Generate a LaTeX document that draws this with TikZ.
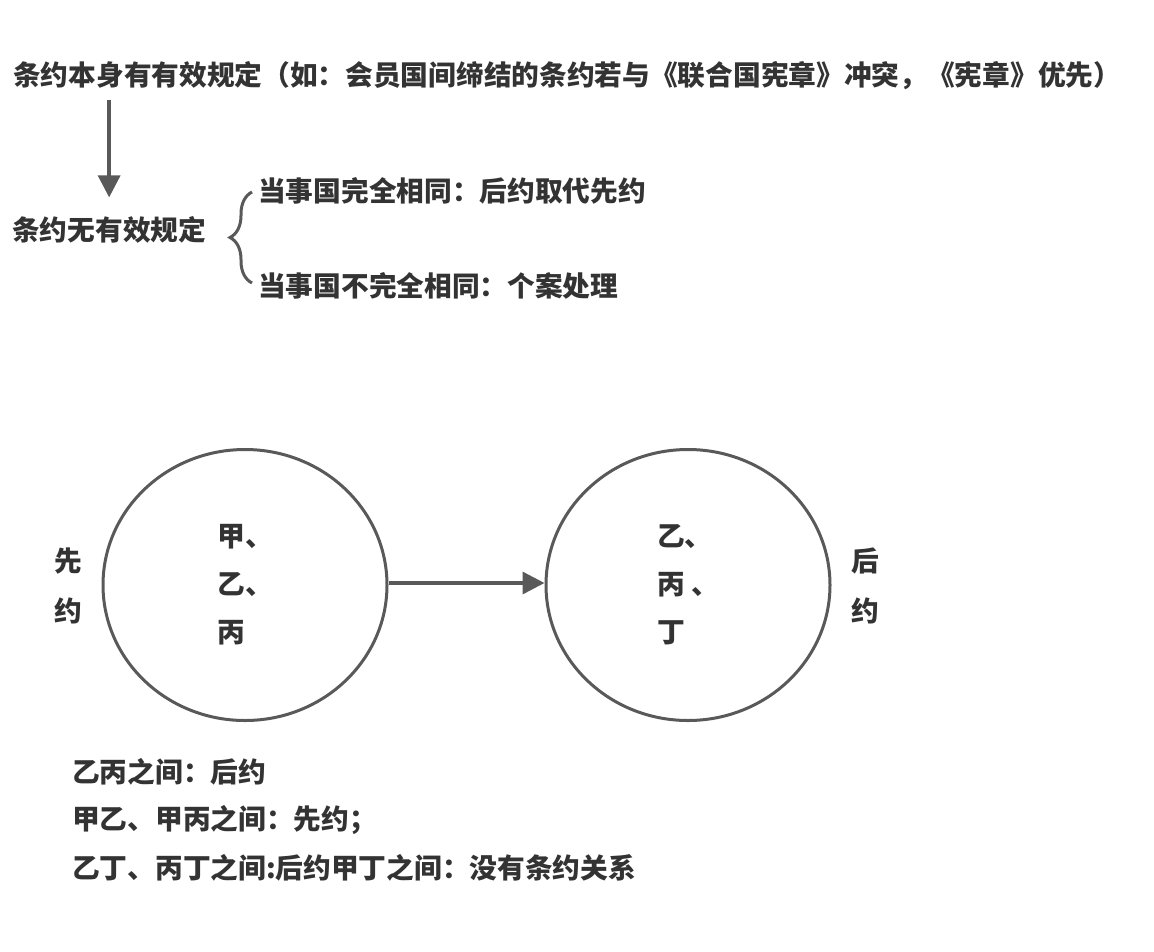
\documentclass[tikz,border=0pt]{standalone}
\usepackage{fontspec}
\setmainfont{Noto Sans CJK SC}
\usepackage{tikz}
\usetikzlibrary{arrows.meta,
shapes.geometric,
decorations.pathreplacing
}
\definecolor{textgray}{HTML}{333333}
\definecolor{linegray}{HTML}{595959}
\tikzset{>={Triangle[width=22pt,length=22pt]}}
\tikzset{
  cntext/.style={inner sep=0pt, text=textgray,
    font=\fontsize{27.7}{48}\selectfont\bfseries},
  treaty/.style={ellipse, draw=linegray, line width=3pt, inner sep=0pt,
    minimum width=284pt, minimum height=271pt, align=left, cntext}
}

\begin{document}
\begin{tikzpicture}[x=1pt, y=-1pt]
                \useasboundingbox (0,0) rectangle (1154,951);

                \node[cntext, anchor=west] (rulehead) at (13,76) {条约本身有有效规定（如：会员国间缔结的条约若与《联合国宪章》冲突，《宪章》优先）};
                \node[cntext, anchor=west] (norule) at (12,230) {条约无有效规定};
                \node[cntext, anchor=west] (samestates) at (258,191) {当事国完全相同：后约取代先约};
                \node[cntext, anchor=west] (diffstates) at (258,286) {当事国不完全相同：个案处理};

                \draw[linegray, line width=3.5pt, ->, shorten <=10pt, shorten >=19pt] (rulehead.south -| norule.north) -- (norule.north);
                \draw[linegray, line width=3pt, decorate, decoration={brace, amplitude=22pt}]
                    ([xshift=-6pt, yshift=3pt]diffstates.west) -- ([xshift=-6pt, yshift=-1pt]samestates.west);

                \node[treaty] (earlier) at (245,585) {甲、\\乙、\\丙};
                \node[treaty] (later) at (688,585) {乙、\\丙 、\\丁};
                \node[cntext, align=center] (earlierlbl) at (68,586) {先\\[2pt]约};
                \node[cntext, align=center] (laterlbl) at (865,586) {后\\[2pt]约};

                \draw[linegray, line width=3.5pt, -{Triangle[width=22pt,length=22pt]}] (earlier.east |- 0,583) -- (later.west |- 0,583);

                \node[cntext, anchor=west] (note1) at (72,772) {乙丙之间：后约};
                \node[cntext, anchor=west] (note2) at (72,820) {甲乙、甲丙之间：先约；};
                \node[cntext, anchor=west] (note3) at (72,868) {乙丁、丙丁之间:后约甲丁之间：没有条约关系};
            \end{tikzpicture}
\end{document}
